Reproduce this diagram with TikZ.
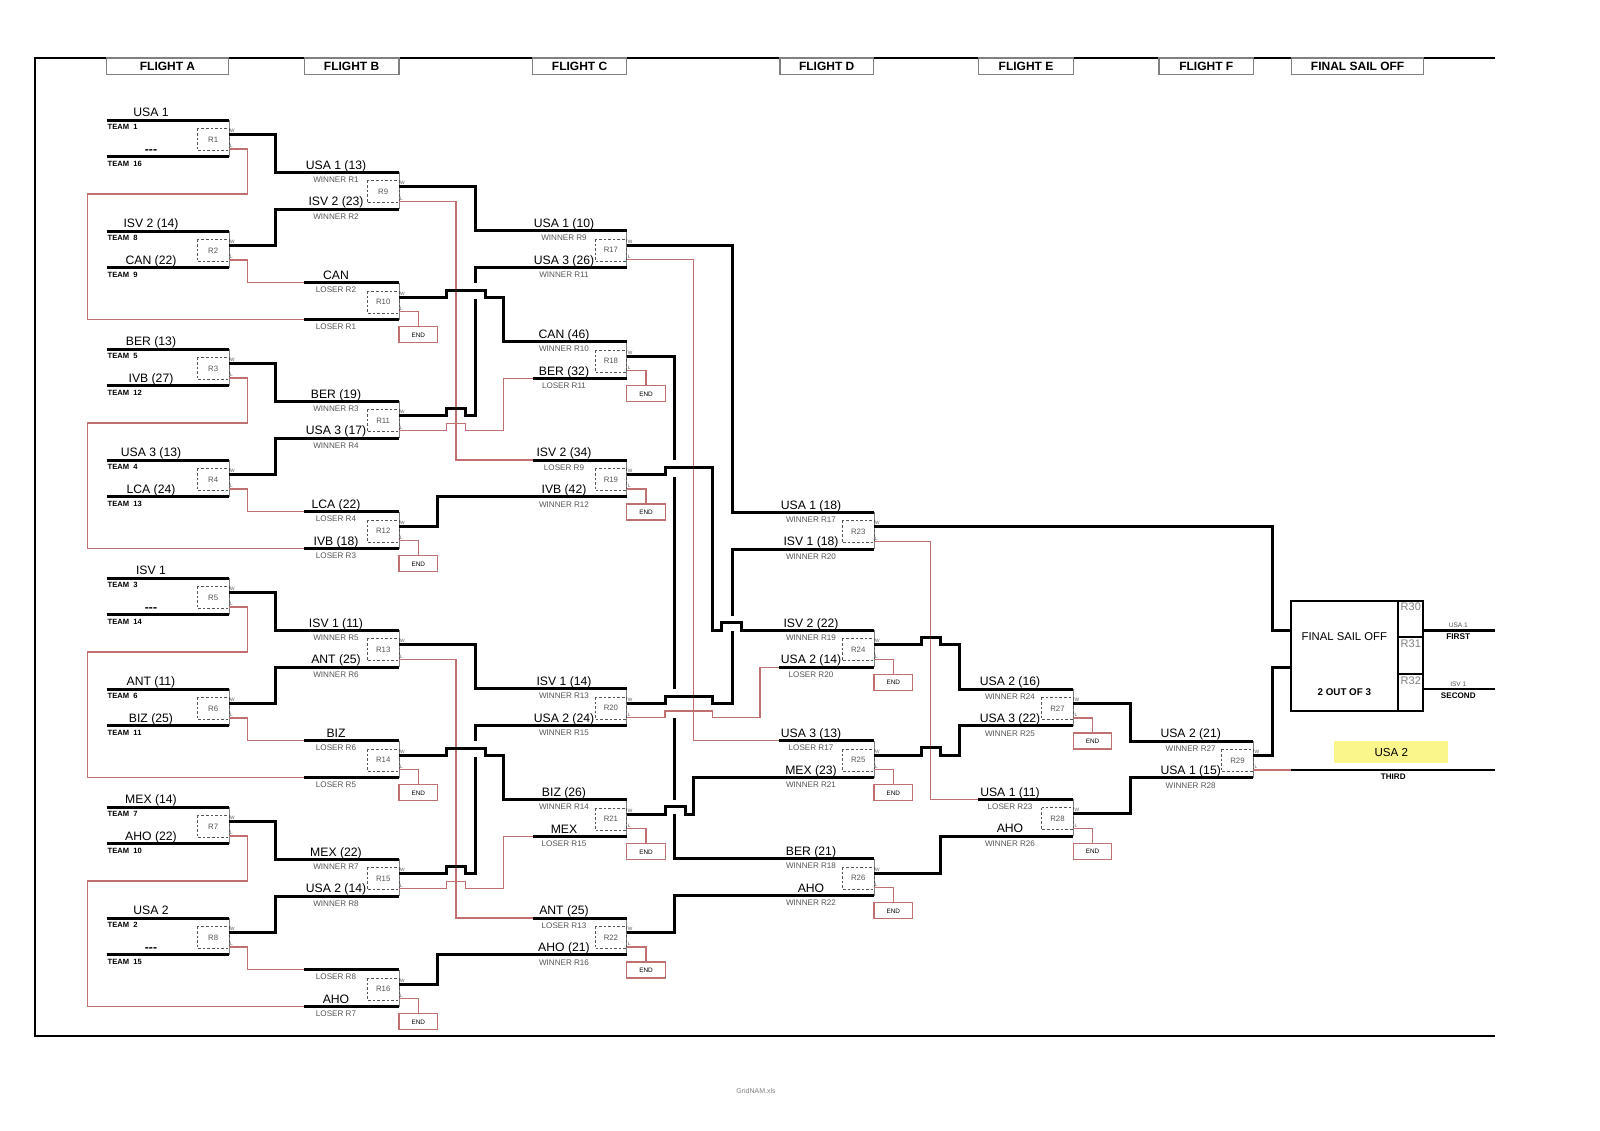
\documentclass[tikz,border=0pt]{standalone}
\usepackage{fontspec}
\setmainfont{Liberation Sans}
\definecolor{lred}{RGB}{192,112,112}
\definecolor{dgray}{RGB}{85,85,85}
\definecolor{yel}{RGB}{250,246,140}
\tikzset{
  thk/.style={draw=black,line width=1.5pt},
  redl/.style={draw=lred,line width=0.55pt},
  mright/.style={draw=gray,line width=0.5pt},
  mbox/.style={draw=dgray,line width=0.45pt,dash pattern=on 1.3pt off 1pt},
  boxlbl/.style={font=\fontsize{3.9}{4}\selectfont,text=dgray,inner sep=0pt},
  wlbl/.style={font=\fontsize{2.4}{2.5}\selectfont,text=dgray,inner sep=0pt,anchor=west},
  mainlbl/.style={font=\fontsize{6.1}{7}\selectfont,inner sep=0pt,anchor=base},
  sublbl/.style={font=\fontsize{4.05}{5}\selectfont,text=dgray,inner sep=0pt,anchor=north},
  teamlbl/.style={font=\bfseries\fontsize{3.8}{4}\selectfont,inner sep=0pt,anchor=north west},
  hdrbox/.style={draw=gray,line width=0.6pt},
  hdrlbl/.style={font=\bfseries\fontsize{6}{7}\selectfont,inner sep=0pt},
  endbox/.style={draw=lred,line width=0.55pt},
  endlbl/.style={font=\fontsize{3.2}{3.5}\selectfont,inner sep=0pt},
  outerframe/.style={draw=black,line width=1pt},
  finline/.style={draw=black,line width=1pt},
}
\newcommand\rmatch[4]{%
  \draw[mright] ({#2},{#3}) -- ({#2},{#3+36.8});
  \draw[mbox] ({#2-31.7},{#3+8.3}) rectangle ({#2},{#3+30.5});
  \node[boxlbl] (#1-box) at ({#2-15.8},{#3+19.4}) {#4};
  \node[wlbl] (#1-wt) at ({#2+0.8},{#3+10.7}) {W};
  \node[wlbl] (#1-lt) at ({#2+0.8},{#3+26.3}) {L};
  \coordinate (#1-w) at ({#2},{#3+14.3});
  \coordinate (#1-l) at ({#2},{#3+29});
}
\newcommand\rend[3]{%
  \draw[redl] (#1-l) -| ({#2+19.3},{#3+44});
  \draw[endbox] ({#2},{#3+44}) rectangle ({#2+38.5},{#3+60});
  \node[endlbl] (#1-end) at ({#2+19.3},{#3+52.2}) {END};
}
\newcommand\clab[5]{%
  \node[mainlbl] (#1-m) at ({#2},{#3-3.3}) {#4};
  \node[sublbl] (#1-s) at ({#2},{#3+4.2}) {#5};
}
\newcommand\slab[4]{%
  \node[sublbl] (#1-s) at ({#2},{#3+4.2}) {#4};
}
\newcommand\tlab[4]{%
  \node[mainlbl] (#1-m) at (151,{#2-3.3}) {#3};
  \node[teamlbl] (#1-t) at (107.3,{#2+3.7}) {#4};
}
\begin{document}
\begin{tikzpicture}[x=0.5pt,y=-0.5pt]
\useasboundingbox (0,0) rectangle (1600,1130);
% frame
\draw[outerframe] (1495,57.5) -- (35,57.5) -- (35,1036) -- (1495,1036);
% headers
\draw[hdrbox] (106.7,58) rectangle (228.3,74.5); \node[hdrlbl] (hA) at (167.5,66.3) {FLIGHT A};
\draw[hdrbox] (304.3,58) rectangle (399,74.5); \node[hdrlbl] (hB) at (351.6,66.3) {FLIGHT B};
\draw[hdrbox] (532.7,58) rectangle (626.5,74.5); \node[hdrlbl] (hC) at (579.6,66.3) {FLIGHT C};
\draw[hdrbox] (780,58) rectangle (873.5,74.5); \node[hdrlbl] (hD) at (826.7,66.3) {FLIGHT D};
\draw[hdrbox] (978.6,58) rectangle (1073.5,74.5); \node[hdrlbl] (hE) at (1026,66.3) {FLIGHT E};
\draw[hdrbox] (1159,58) rectangle (1253.6,74.5); \node[hdrlbl] (hF) at (1206.3,66.3) {FLIGHT F};
\draw[hdrbox] (1291.8,58) rectangle (1423.5,74.5); \node[hdrlbl] (hG) at (1357.6,66.3) {FINAL SAIL OFF};

% Flight A and B, by groups
\foreach \g in {0,1,2,3}{
  \pgfmathsetmacro\dd{229*\g}
  \pgfmathtruncatemacro\mA{2*\g+1}
  \pgfmathtruncatemacro\mB{2*\g+2}
  \pgfmathtruncatemacro\mC{2*\g+9}
  \pgfmathtruncatemacro\mD{2*\g+10}
  \foreach \yy in {120,156.8,231,267.8}{\draw[thk] (106.7,{\yy+\dd}) -- (229,{\yy+\dd});}
  \rmatch{R\mA}{229}{120+\dd}{R\mA}
  \rmatch{R\mB}{229}{231+\dd}{R\mB}
  \rmatch{R\mC}{399}{172.3+\dd}{R\mC}
  \rmatch{R\mD}{399}{282.7+\dd}{R\mD}
  \draw[thk] (R\mA-w) -- (275.7,{134.3+\dd}) -- (275.7,{172.3+\dd}) -- (399,{172.3+\dd});
  \draw[thk] (R\mB-w) -- (275.7,{245.3+\dd}) -- (275.7,{209.1+\dd}) -- (399,{209.1+\dd});
  \draw[redl] (R\mB-l) -- (247.3,{260+\dd}) -- (247.3,{282.7+\dd}) -- (304.3,{282.7+\dd});
  \draw[thk] (304.3,{282.7+\dd}) -- (399,{282.7+\dd});
  \draw[redl] (R\mA-l) -- (247.3,{149+\dd}) -- (247.3,{194+\dd}) -- (87.3,{194+\dd}) -- (87.3,{319.5+\dd}) -- (304.3,{319.5+\dd});
  \draw[thk] (304.3,{319.5+\dd}) -- (399,{319.5+\dd});
  \rend{R\mD}{399}{282.7+\dd}
}

% Flight B to C, by halves
\foreach \h in {0,1}{
  \pgfmathsetmacro\DD{458*\h}
  \pgfmathtruncatemacro\ma{9+4*\h}
  \pgfmathtruncatemacro\mb{10+4*\h}
  \pgfmathtruncatemacro\mc{11+4*\h}
  \pgfmathtruncatemacro\me{12+4*\h}
  \pgfmathtruncatemacro\mf{17+3*\h}
  \pgfmathtruncatemacro\mg{18+3*\h}
  \pgfmathtruncatemacro\mk{19+3*\h}
  \rmatch{R\mf}{626.7}{230.7+\DD}{R\mf}
  \rmatch{R\mg}{626.7}{341.7+\DD}{R\mg}
  \rmatch{R\mk}{626.7}{460+\DD}{R\mk}
  \rend{R\mg}{626.7}{341.7+\DD}
  \rend{R\mk}{626.7}{460+\DD}
  \draw[thk] (R\ma-w) -- (475.5,{186.6+\DD}) -- (475.5,{230.7+\DD}) -- (626.7,{230.7+\DD});
  \draw[redl] (R\ma-l) -- (456,{201.3+\DD}) -- (456,{460+\DD}) -- (532.7,{460+\DD});
  \draw[thk] (532.7,{460+\DD}) -- (626.7,{460+\DD});
  \draw[thk] (R\mb-w) -- (446.5,{297+\DD}) -- (446.5,{290.5+\DD}) -- (485,{290.5+\DD}) -- (485,{297+\DD}) -- (503.3,{297+\DD}) -- (503.3,{341.7+\DD}) -- (626.7,{341.7+\DD});
  \draw[thk] (R\mc-w) -- (446.5,{415.6+\DD}) -- (446.5,{408.6+\DD}) -- (465.7,{408.6+\DD}) -- (465.7,{415.6+\DD}) -- (475.5,{415.6+\DD}) -- (475.5,{298.5+\DD});
  \draw[thk] (475.5,{282.5+\DD}) -- (475.5,{267.5+\DD}) -- (626.7,{267.5+\DD});
  \draw[redl] (R\mc-l) -- (446.5,{430.3+\DD}) -- (446.5,{423.3+\DD}) -- (465.7,{423.3+\DD}) -- (465.7,{430.3+\DD}) -- (503.3,{430.3+\DD}) -- (503.3,{378.5+\DD}) -- (532.7,{378.5+\DD});
  \draw[thk] (532.7,{378.5+\DD}) -- (626.7,{378.5+\DD});
  \draw[thk] (R\me-w) -- (437.3,{526+\DD}) -- (437.3,{496.8+\DD}) -- (626.7,{496.8+\DD});
}

% Flight D, E, F matches
\rmatch{R23}{874}{512.3}{R23}
\rmatch{R24}{874}{630.3}{R24}
\rmatch{R25}{874}{740.7}{R25}
\rmatch{R26}{874}{858.7}{R26}
\rend{R24}{874}{630.3}
\rend{R25}{874}{740.7}
\rend{R26}{874}{858.7}
\rmatch{R27}{1073.3}{689}{R27}
\rmatch{R28}{1073.3}{799.3}{R28}
\rend{R27}{1073.3}{689}
\rend{R28}{1073.3}{799.3}
\rmatch{R29}{1253.3}{741}{R29}

% Flight C to D
\draw[thk] (R17-w) -- (732,245) -- (732,512.3) -- (874,512.3);
\draw[redl] (R17-l) -- (693.3,259.7) -- (693.3,740.7) -- (779.3,740.7);
\draw[thk] (779.3,740.7) -- (874,740.7);
\draw[thk] (R18-w) -- (674,356) -- (674,460);
\draw[thk] (674,477) -- (674,689);
\draw[thk] (674,718) -- (674,800);
\draw[thk] (674,813.5) -- (674,858.7) -- (874,858.7);
\draw[thk] (R19-w) -- (665,474.3) -- (665,467.3) -- (712.7,467.3) -- (712.7,630.3) -- (721.7,630.3) -- (721.7,622.7) -- (741.7,622.7) -- (741.7,630.3) -- (874,630.3);
\draw[thk] (R20-w) -- (665,703) -- (665,696) -- (712.7,696) -- (712.7,703) -- (732,703) -- (732,631);
\draw[thk] (732,615.5) -- (732,549.1) -- (874,549.1);
\draw[redl] (R20-l) -- (665,717.7) -- (665,711) -- (712.7,711) -- (712.7,717.7) -- (760,717.7) -- (760,667.1) -- (779.3,667.1);
\draw[thk] (779.3,667.1) -- (874,667.1);
\draw[thk] (R21-w) -- (665,814) -- (665,806.7) -- (685,806.7) -- (685,814) -- (693.3,814) -- (693.3,777.5) -- (874,777.5);
\draw[thk] (R22-w) -- (674,932.3) -- (674,895.5) -- (874,895.5);

% Flight D to E
\draw[redl] (R23-l) -- (930.7,541.3) -- (930.7,799.3) -- (978.3,799.3);
\draw[thk] (978.3,799.3) -- (1073.3,799.3);
\draw[thk] (R24-w) -- (921.7,644.6) -- (921.7,637) -- (940,637) -- (940,644.6) -- (959.3,644.6) -- (959.3,689) -- (1073.3,689);
\draw[thk] (R25-w) -- (921.7,755) -- (921.7,747.7) -- (940,747.7) -- (940,755) -- (959.3,755) -- (959.3,725.8) -- (1073.3,725.8);
\draw[thk] (R26-w) -- (940,873) -- (940,836.1) -- (1073.3,836.1);

% Flight E to F
\draw[thk] (R27-w) -- (1130,703.3) -- (1130,741) -- (1253.3,741);
\draw[thk] (R28-w) -- (1130,813.6) -- (1130,777.8) -- (1253.3,777.8);

% Final sail off
\draw[finline] (1291,600.7) rectangle (1423.3,710.7);
\draw[finline] (1397.7,600.7) -- (1397.7,710.7);
\draw[finline] (1397.7,636.7) -- (1423.3,636.7);
\draw[finline] (1397.7,674) -- (1423.3,674);
\node[font=\fontsize{5.65}{6}\selectfont,inner sep=0pt] (fso) at (1344.3,636.7) {FINAL SAIL OFF};
\node[font=\bfseries\fontsize{4.9}{5}\selectfont,inner sep=0pt] (fso3) at (1344.3,692.3) {2 OUT OF 3};
\node[font=\fontsize{5.5}{6}\selectfont,text=gray,inner sep=0pt,anchor=north west] (r30) at (1400.3,602.6) {R30};
\node[font=\fontsize{5.5}{6}\selectfont,text=gray,inner sep=0pt,anchor=north west] (r31) at (1400.3,639.6) {R31};
\node[font=\fontsize{5.5}{6}\selectfont,text=gray,inner sep=0pt,anchor=north west] (r32) at (1400.3,676.6) {R32};
\draw[thk] (R23-w) -- (1272,526.6) -- (1272,630.3) -- (1291,630.3);
\draw[thk] (R29-w) -- (1272,755.3) -- (1272,667) -- (1291,667);
\draw[redl] (R29-l) -- (1253.3,770) -- (1291,770);
\draw[line width=1.2pt] (1423.3,630.3) -- (1495,630.3);
\draw[line width=1.2pt] (1423.3,688.7) -- (1495,688.7);
\draw[line width=1.2pt] (1291,770) -- (1495,770);
\node[font=\fontsize{3.3}{3.5}\selectfont,text=dgray,inner sep=0pt,anchor=base] (p1) at (1458.3,627.6) {USA 1};
\node[font=\bfseries\fontsize{4.15}{4.5}\selectfont,inner sep=0pt,anchor=north] (first) at (1458.3,633.4) {FIRST};
\node[font=\fontsize{3.3}{3.5}\selectfont,text=dgray,inner sep=0pt,anchor=base] (p2) at (1458.3,686) {ISV 1};
\node[font=\bfseries\fontsize{4.05}{4.5}\selectfont,inner sep=0pt,anchor=north] (second) at (1458.3,692.2) {SECOND};
\fill[yel] (1334.3,740.7) rectangle (1448.3,762.7);
\node[font=\fontsize{5.8}{6}\selectfont,inner sep=0pt] (p3) at (1391.3,752) {USA 2};
\node[font=\bfseries\fontsize{4.05}{4.5}\selectfont,inner sep=0pt,anchor=north] (third) at (1393.3,774) {THIRD};

% Flight A labels
\tlab{a1}{120}{USA 1}{TEAM\ \ 1}
\tlab{a2}{156.8}{\textbf{-{}-{}-}}{TEAM\ \ 16}
\tlab{a3}{231}{ISV 2 (14)}{TEAM\ \ 8}
\tlab{a4}{267.8}{CAN (22)}{TEAM\ \ 9}
\tlab{a5}{349}{BER (13)}{TEAM\ \ 5}
\tlab{a6}{385.8}{IVB (27)}{TEAM\ \ 12}
\tlab{a7}{460}{USA 3 (13)}{TEAM\ \ 4}
\tlab{a8}{496.8}{LCA (24)}{TEAM\ \ 13}
\tlab{a9}{578}{ISV 1}{TEAM\ \ 3}
\tlab{a10}{614.8}{\textbf{-{}-{}-}}{TEAM\ \ 14}
\tlab{a11}{689}{ANT (11)}{TEAM\ \ 6}
\tlab{a12}{725.8}{BIZ (25)}{TEAM\ \ 11}
\tlab{a13}{807}{MEX (14)}{TEAM\ \ 7}
\tlab{a14}{843.8}{AHO (22)}{TEAM\ \ 10}
\tlab{a15}{918}{USA 2}{TEAM\ \ 2}
\tlab{a16}{954.8}{\textbf{-{}-{}-}}{TEAM\ \ 15}

% Flight B labels
\clab{b1}{336}{172.3}{USA 1 (13)}{WINNER R1}
\clab{b2}{336}{209.1}{ISV 2 (23)}{WINNER R2}
\clab{b3}{336}{282.7}{CAN}{LOSER R2}
\slab{b4}{336}{319.5}{LOSER R1}
\clab{b5}{336}{401.3}{BER (19)}{WINNER R3}
\clab{b6}{336}{438.1}{USA 3 (17)}{WINNER R4}
\clab{b7}{336}{511.7}{LCA (22)}{LOSER R4}
\clab{b8}{336}{548.5}{IVB (18)}{LOSER R3}
\clab{b9}{336}{630.3}{ISV 1 (11)}{WINNER R5}
\clab{b10}{336}{667.1}{ANT (25)}{WINNER R6}
\clab{b11}{336}{740.7}{BIZ}{LOSER R6}
\slab{b12}{336}{777.5}{LOSER R5}
\clab{b13}{336}{859.3}{MEX (22)}{WINNER R7}
\clab{b14}{336}{896.1}{USA 2 (14)}{WINNER R8}
\slab{b15}{336}{969.7}{LOSER R8}
\clab{b16}{336}{1006.5}{AHO}{LOSER R7}

% Flight C labels
\clab{c1}{564}{230.7}{USA 1 (10)}{WINNER R9}
\clab{c2}{564}{267.5}{USA 3 (26)}{WINNER R11}
\clab{c3}{564}{341.7}{CAN (46)}{WINNER R10}
\clab{c4}{564}{378.5}{BER (32)}{LOSER R11}
\clab{c5}{564}{460}{ISV 2 (34)}{LOSER R9}
\clab{c6}{564}{496.8}{IVB (42)}{WINNER R12}
\clab{c7}{564}{688.7}{ISV 1 (14)}{WINNER R13}
\clab{c8}{564}{725.5}{USA 2 (24)}{WINNER R15}
\clab{c9}{564}{799.7}{BIZ (26)}{WINNER R14}
\clab{c10}{564}{836.5}{MEX}{LOSER R15}
\clab{c11}{564}{918}{ANT (25)}{LOSER R13}
\clab{c12}{564}{954.8}{AHO (21)}{WINNER R16}

% Flight D labels
\clab{d1}{811}{512.3}{USA 1 (18)}{WINNER R17}
\clab{d2}{811}{549.1}{ISV 1 (18)}{WINNER R20}
\clab{d3}{811}{630.3}{ISV 2 (22)}{WINNER R19}
\clab{d4}{811}{667.1}{USA 2 (14)}{LOSER R20}
\clab{d5}{811}{740.7}{USA 3 (13)}{LOSER R17}
\clab{d6}{811}{777.5}{MEX (23)}{WINNER R21}
\clab{d7}{811}{858.7}{BER (21)}{WINNER R18}
\clab{d8}{811}{895.5}{AHO}{WINNER R22}

% Flight E labels
\clab{e1}{1010}{689}{USA 2 (16)}{WINNER R24}
\clab{e2}{1010}{725.8}{USA 3 (22)}{WINNER R25}
\clab{e3}{1010}{799.3}{USA 1 (11)}{LOSER R23}
\clab{e4}{1010}{836.1}{AHO}{WINNER R26}

% Flight F labels
\clab{f1}{1190.7}{741}{USA 2 (21)}{WINNER R27}
\clab{f2}{1190.7}{777.8}{USA 1 (15)}{WINNER R28}

% footer
\node[font=\fontsize{3.5}{4}\selectfont,text=gray,inner sep=0pt] (footer) at (756,1091) {GridNAM.xls};
\end{tikzpicture}
\end{document}
